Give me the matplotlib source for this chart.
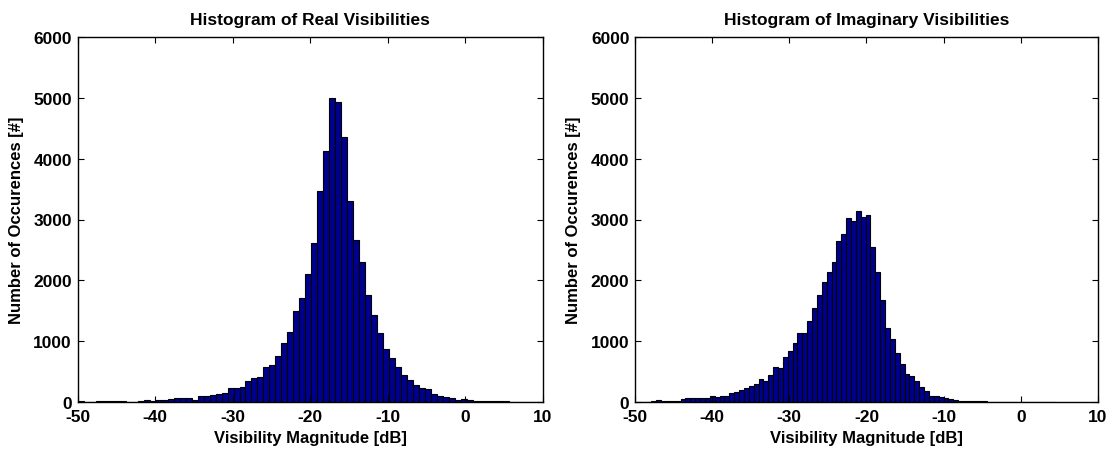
import numpy as np
import matplotlib
matplotlib.use("Agg")
import matplotlib.pyplot as plt

plt.rcParams['font.family'] = ['Liberation Sans', 'DejaVu Sans']
plt.rcParams['font.weight'] = 'bold'

# Real part histogram: first bin edge, bin width [dB] and counts per bin
real_start = -49.94
real_width = 0.772
real_counts = [20, 10, 3, 18, 20, 22, 16, 14, 10, 12, 15, 33, 20, 40, 42, 62,
               65, 66, 77, 44, 104, 106, 120, 137, 148, 235, 237, 250, 355, 400,
               410, 574, 615, 760, 967, 1159, 1492, 1710, 2104, 2612, 3475, 4131,
               4995, 4923, 4355, 3301, 2661, 2295, 1765, 1432, 1131, 877, 730, 582,
               448, 363, 292, 232, 216, 142, 104, 82, 71, 44, 60, 33, 27, 27, 27,
               16, 27, 16, 12, 12, 10, 12, 8, 6]

# Imaginary part histogram
imag_start = -49.77
imag_width = 0.631
imag_counts = [10, 8, 12, 16, 33, 14, 22, 24, 27, 62, 65, 64, 66, 65, 68, 104,
               87, 104, 106, 148, 164, 202, 240, 273, 295, 383, 350, 454, 585, 568,
               749, 836, 967, 1131, 1142, 1328, 1546, 1765, 1967, 2142, 2306, 2639,
               2760, 3022, 2978, 3142, 3033, 3071, 2552, 2142, 1678, 1224, 1033, 803,
               623, 464, 437, 344, 257, 180, 109, 109, 82, 71, 50, 40, 27, 27, 20,
               16, 16, 16, 10, 3, 10, 10, 10, 10, 12, 10, 10, 8, 10, 8, 8, 6]

titles = ["Histogram of Real Visibilities", "Histogram of Imaginary Visibilities"]
xlabel = "Visibility Magnitude [dB]"
ylabel = "Number of Occurences [#]"
xticks = [-50, -40, -30, -20, -10, 0, 10]
yticks = [0, 1000, 2000, 3000, 4000, 5000, 6000]

W, H = 1114, 452
fig = plt.figure(figsize=(W / 100, H / 100), dpi=100)
ax_left = fig.add_axes([77.5 / W, 48.7 / H, 465 / W, 365.6 / H])
ax_right = fig.add_axes([635 / W, 48.7 / H, 463 / W, 365.6 / H])

panels = [
    (ax_left, real_start, real_width, real_counts, titles[0]),
    (ax_right, imag_start, imag_width, imag_counts, titles[1]),
]

for ax, start, width, counts, title in panels:
    edges = start + width * np.arange(len(counts))
    ax.bar(edges, counts, width=width, align='edge', color='#00008F',
           edgecolor='black', linewidth=0.8, clip_on=True)
    ax.set_xlim(-50, 10)
    ax.set_ylim(0, 6000)
    ax.set_xticks(xticks)
    ax.set_yticks(yticks)
    ax.set_xticklabels([str(t) for t in xticks], fontsize=12.5, fontweight='bold')
    ax.set_yticklabels([str(t) for t in yticks], fontsize=12.5, fontweight='bold')
    ax.tick_params(direction='in', length=4, width=0.8, top=True, right=True)
    ax.tick_params(axis='x', pad=4.5)
    ax.tick_params(axis='y', pad=4)
    for s in ax.spines.values():
        s.set_linewidth(1.0)
    ax.set_title(title, fontsize=12.5, fontweight='bold', pad=9)
    ax.set_xlabel(xlabel, fontsize=12, fontweight='bold', labelpad=5)
    ax.set_ylabel(ylabel, fontsize=12, fontweight='bold', labelpad=7)

fig.savefig("out.png", dpi=100)
